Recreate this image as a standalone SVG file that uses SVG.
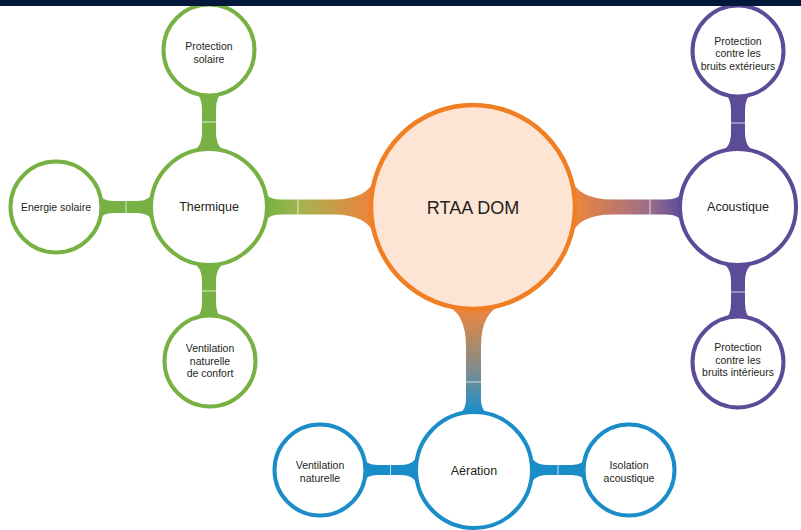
<svg xmlns="http://www.w3.org/2000/svg" width="801" height="530" viewBox="0 0 801 530">
<defs>
<linearGradient id="gThermRtaa" gradientUnits="userSpaceOnUse" x1="268" y1="0" x2="370" y2="0">
<stop offset="0" stop-color="#78B443"/><stop offset="0.35" stop-color="#A8B150"/><stop offset="1" stop-color="#EB843C"/>
</linearGradient>
<linearGradient id="gRtaaAcou" gradientUnits="userSpaceOnUse" x1="577" y1="0" x2="680" y2="0">
<stop offset="0" stop-color="#EB853E"/><stop offset="0.7" stop-color="#9C6E8A"/><stop offset="1" stop-color="#5E4E9A"/>
</linearGradient>
<linearGradient id="gRtaaAer" gradientUnits="userSpaceOnUse" x1="0" y1="310" x2="0" y2="412">
<stop offset="0" stop-color="#EB853E"/><stop offset="0.6" stop-color="#7C8D8E"/><stop offset="1" stop-color="#1A8FCB"/>
</linearGradient>
<style>
.green{fill:#77B143}
.purple{fill:#5C4C98}
.blue{fill:#1A8DC9}
.seam{stroke:#FFFFFF;stroke-width:1;stroke-opacity:0.75}
.c{fill:#FFFFFF;stroke-width:4}
.cg{stroke:#77B143}
.cp{stroke:#5C4C98}
.cb{stroke:#1A8DC9}
.t{font-family:"Liberation Sans",Arial,sans-serif;fill:#231F20;text-anchor:middle}
.s{font-size:10.5px}
.m{font-size:12.5px}
.l{font-size:18px}
</style>
</defs>
<rect x="0" y="0" width="801" height="530" fill="#FFFFFF"/>
<g id="connectors">
<path fill="url(#gThermRtaa)" d="M 209 191 L 264.75 191 Q 267.19 199.5 281.2 199.5 L 333.6 199.5 Q 368.59 199.5 375.51 177 L 473 177 L 473 237 L 375.51 237 Q 368.59 214.5 333.6 214.5 L 281.2 214.5 Q 267.19 214.5 264.75 223 L 209 223 Z"/>
<line class="seam" x1="298" y1="199" x2="298" y2="215"/>
<path fill="url(#gRtaaAcou)" d="M 473 177 L 570.49 177 Q 577.41 199.5 612.4 199.5 L 665.8 199.5 Q 679.81 199.5 682.25 191 L 738 191 L 738 223 L 682.25 223 Q 679.81 214.5 665.8 214.5 L 612.4 214.5 Q 577.41 214.5 570.49 237 L 473 237 Z"/>
<line class="seam" x1="650" y1="199" x2="650" y2="215"/>
<path fill="url(#gRtaaAer)" d="M 443.5 207 L 443.5 304.49 Q 466 311.41 466 346.4 L 466 397.8 Q 466 411.81 457.5 414.25 L 457.5 470 L 489.5 470 L 489.5 414.25 Q 481 411.81 481 397.8 L 481 346.4 Q 481 311.41 503.5 304.49 L 503.5 207 Z"/>
<line class="seam" x1="465.5" y1="382" x2="481.5" y2="382"/>
<path class="green" d="M 195 50 L 195 93.29 Q 202 95.55 202 109.55 L 202 132.27 Q 202 148.27 191 151.86 L 191 207 L 227 207 L 227 151.86 Q 216 148.27 216 132.27 L 216 109.55 Q 216 95.55 223 93.29 L 223 50 Z"/>
<line class="seam" x1="201.5" y1="122" x2="216.5" y2="122"/>
<path class="green" d="M 191 207 L 191 262.14 Q 202 265.73 202 281.73 L 202 301.45 Q 202 315.45 195 317.71 L 195 361 L 223 361 L 223 317.71 Q 216 315.45 216 301.45 L 216 281.73 Q 216 265.73 227 262.14 L 227 207 Z"/>
<line class="seam" x1="201.5" y1="291" x2="216.5" y2="291"/>
<path class="green" d="M 56 194 L 99.6 194 Q 101.69 201 113.7 201 L 136.4 201 Q 150.38 201 153.25 191 L 209 191 L 209 223 L 153.25 223 Q 150.38 213 136.4 213 L 113.7 213 Q 101.69 213 99.6 220 L 56 220 Z"/>
<line class="seam" x1="126" y1="200.5" x2="126" y2="213.5"/>
<path class="purple" d="M 724 51 L 724 94.29 Q 731 96.55 731 110.55 L 731 132.27 Q 731 148.27 720 151.86 L 720 207 L 756 207 L 756 151.86 Q 745 148.27 745 132.27 L 745 110.55 Q 745 96.55 752 94.29 L 752 51 Z"/>
<line class="seam" x1="730.5" y1="123" x2="745.5" y2="123"/>
<path class="purple" d="M 720 207 L 720 262.14 Q 731 265.73 731 281.73 L 731 302.45 Q 731 316.45 724 318.71 L 724 362 L 752 362 L 752 318.71 Q 745 316.45 745 302.45 L 745 281.73 Q 745 265.73 756 262.14 L 756 207 Z"/>
<line class="seam" x1="730.5" y1="292" x2="745.5" y2="292"/>
<path class="blue" d="M 320 458 L 363.89 458 Q 365.8 465 377.8 465 L 400.9 465 Q 414.87 465 418.55 453 L 474 453 L 474 487 L 418.55 487 Q 414.87 475 400.9 475 L 377.8 475 Q 365.8 475 363.89 482 L 320 482 Z"/>
<line class="seam" x1="390.5" y1="464.5" x2="390.5" y2="475.5"/>
<path class="blue" d="M 474 453 L 529.45 453 Q 533.13 465 547.1 465 L 571.2 465 Q 583.2 465 585.11 458 L 629 458 L 629 482 L 585.11 482 Q 583.2 475 571.2 475 L 547.1 475 Q 533.13 475 529.45 487 L 474 487 Z"/>
<line class="seam" x1="558" y1="464.5" x2="558" y2="475.5"/>
</g>
<g id="rtaa-dom">
<circle cx="473" cy="207" r="102" fill="#FDE4D4" stroke="#F07E22" stroke-width="4.5"/>
<text class="t l" x="473" y="213.5">RTAA DOM</text>
</g>
<g id="thermique">
<circle class="c cg" cx="209" cy="207" r="58"/>
<text class="t m" x="209" y="211">Thermique</text>
</g>
<g id="protection-solaire">
<circle class="c cg" cx="209" cy="50" r="45.5"/>
<text class="t s" x="209" y="50">Protection</text>
<text class="t s" x="209" y="63">solaire</text>
</g>
<g id="energie-solaire">
<circle class="c cg" cx="56" cy="207" r="45.5"/>
<text class="t s" x="56" y="210.5">Energie solaire</text>
</g>
<g id="ventilation-confort">
<circle class="c cg" cx="210" cy="361" r="45.5"/>
<text class="t s" x="210" y="352">Ventilation</text>
<text class="t s" x="210" y="364.7">naturelle</text>
<text class="t s" x="210" y="377.4">de confort</text>
</g>
<g id="acoustique">
<circle class="c cp" cx="738" cy="207" r="58"/>
<text class="t m" x="738" y="211">Acoustique</text>
</g>
<g id="bruits-exterieurs">
<circle class="c cp" cx="738" cy="51" r="45.5"/>
<text class="t s" x="738" y="44.5">Protection</text>
<text class="t s" x="738" y="57.2">contre les</text>
<text class="t s" x="738" y="69.9">bruits extérieurs</text>
</g>
<g id="bruits-interieurs">
<circle class="c cp" cx="738" cy="362" r="45.5"/>
<text class="t s" x="738" y="351">Protection</text>
<text class="t s" x="738" y="363.7">contre les</text>
<text class="t s" x="738" y="376.4">bruits intérieurs</text>
</g>
<g id="aeration">
<circle class="c cb" cx="474" cy="470" r="58"/>
<text class="t m" x="474" y="475">Aération</text>
</g>
<g id="ventilation-naturelle">
<circle class="c cb" cx="320" cy="470" r="45.5"/>
<text class="t s" x="320" y="469">Ventilation</text>
<text class="t s" x="320" y="481.8">naturelle</text>
</g>
<g id="isolation-acoustique">
<circle class="c cb" cx="629" cy="470" r="45.5"/>
<text class="t s" x="629" y="469">Isolation</text>
<text class="t s" x="629" y="481.8">acoustique</text>
</g>
<rect x="0" y="0" width="801" height="6" fill="#03173A"/>
</svg>
